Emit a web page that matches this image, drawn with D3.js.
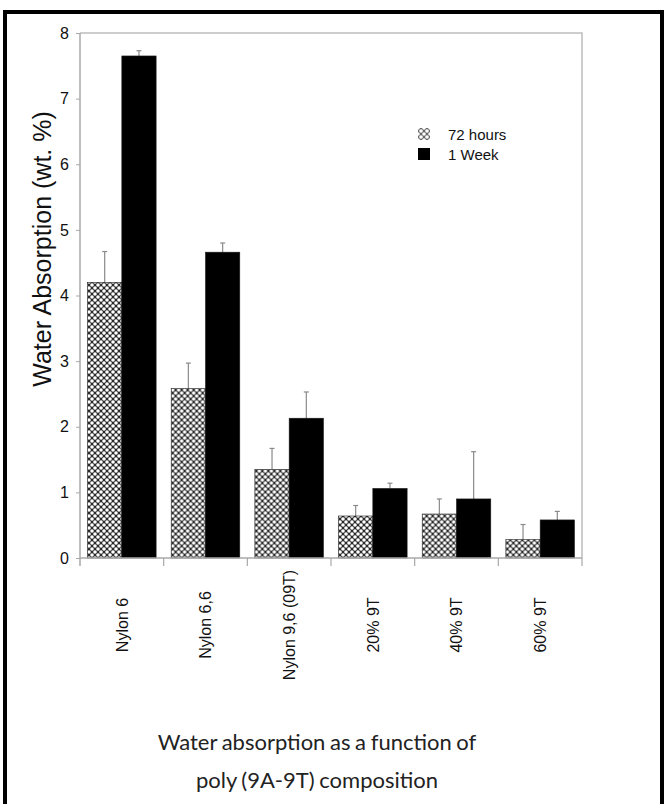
<!DOCTYPE html>
<html>
<head>
<meta charset="utf-8">
<script src="https://cdn.jsdelivr.net/npm/d3@7"></script>
<style>
  body { margin: 0; background: #fff; }
  svg { display: block; }
</style>
</head>
<body>
<div class="canvas"></div>
<script>
// data
const categories = ['Nylon 6', 'Nylon 6,6', 'Nylon 9,6 (09T)', '20% 9T', '40% 9T', '60% 9T']
const seriesNames = ['72 hours', '1 Week']
const hours72 = [4.2, 2.58, 1.35, 0.64, 0.67, 0.28]
const hours72Err = [0.47, 0.39, 0.32, 0.16, 0.23, 0.23]
const week1 = [7.65, 4.66, 2.13, 1.06, 0.9, 0.58]
const week1Err = [0.08, 0.14, 0.4, 0.08, 0.72, 0.13]
const yTicks = [0, 1, 2, 3, 4, 5, 6, 7, 8]

const width = 668, height = 804
const margin = {top: 33, left: 80, right: 86, bottom: 246}
const graphWidth = width - margin.left - margin.right
const graphHeight = height - margin.top - margin.bottom

const svg = d3.select('.canvas')
    .append('svg')
    .attr('width', width)
    .attr('height', height)

// hatched fill for the 72 hours bars
const defs = svg.append('defs')
const pat = defs.append('pattern')
    .attr('id', 'hatch')
    .attr('patternUnits', 'userSpaceOnUse')
    .attr('width', 6)
    .attr('height', 6)
pat.append('rect').attr('width', 6).attr('height', 6).attr('fill', '#2a2a2a')
;[[0, 0], [6, 0], [0, 6], [6, 6], [3, 3]].forEach(p => {
    pat.append('circle').attr('cx', p[0]).attr('cy', p[1]).attr('r', 1.8).attr('fill', '#fff')
})

// outer frame, open at the bottom
svg.append('path')
    .attr('d', `M5,${height} L5,12 L662,12 L662,${height}`)
    .attr('fill', 'none')
    .attr('stroke', '#000')
    .attr('stroke-width', 4)

const graph = svg.append('g')
    .attr('transform', `translate(${margin.left}, ${margin.top})`)

const y = d3.scaleLinear()
    .domain([0, 8])
    .range([graphHeight, 0])

const x0 = d3.scaleBand()
    .domain(categories)
    .range([0, graphWidth])

const x1 = d3.scaleBand()
    .domain(seriesNames)
    .range([0, x0.bandwidth()])
    .paddingOuter(0.22)

// plot box (top and right)
graph.append('path')
    .attr('d', `M0,0 L${graphWidth},0 L${graphWidth},${graphHeight}`)
    .attr('fill', 'none')
    .attr('stroke', '#bdbdbd')
    .attr('stroke-width', 1.5)

const rows = categories.map((c, i) => ({
    cat: c,
    vals: [
        {s: seriesNames[0], v: hours72[i], e: hours72Err[i]},
        {s: seriesNames[1], v: week1[i], e: week1Err[i]}
    ]
}))

const groups = graph.selectAll('g.grp')
    .data(rows)
    .enter()
    .append('g')
    .attr('class', 'grp')
    .attr('transform', d => `translate(${x0(d.cat)}, 0)`)

// error bars (upper only)
const errs = groups.selectAll('g.err')
    .data(d => d.vals)
    .enter()
    .append('g')
    .attr('class', 'err')
errs.append('line')
    .attr('x1', d => x1(d.s) + x1.bandwidth() / 2)
    .attr('x2', d => x1(d.s) + x1.bandwidth() / 2)
    .attr('y1', d => y(d.v))
    .attr('y2', d => y(d.v + d.e))
    .attr('stroke', '#8a8a8a')
    .attr('stroke-width', 1.2)
errs.append('line')
    .attr('x1', d => x1(d.s) + x1.bandwidth() / 2 - 2.5)
    .attr('x2', d => x1(d.s) + x1.bandwidth() / 2 + 2.5)
    .attr('y1', d => y(d.v + d.e))
    .attr('y2', d => y(d.v + d.e))
    .attr('stroke', '#8a8a8a')
    .attr('stroke-width', 1.2)

groups.selectAll('rect')
    .data(d => d.vals)
    .enter()
    .append('rect')
    .attr('x', d => x1(d.s))
    .attr('width', x1.bandwidth())
    .attr('y', d => y(d.v))
    .attr('height', d => graphHeight - y(d.v))
    .attr('fill', d => d.s === seriesNames[0] ? 'url(#hatch)' : '#000')
    .attr('stroke', '#1a1a1a')
    .attr('stroke-width', 0.6)

// y axis
const yAxis = d3.axisLeft(y)
    .tickValues(yTicks)
    .tickFormat(d3.format('d'))
    .tickSize(4)
    .tickPadding(7)
const yAxisGroup = graph.append('g').call(yAxis)
yAxisGroup.select('.domain').attr('stroke', '#a8a8a8').attr('stroke-width', 1.5)
    .attr('d', `M0,0 V${graphHeight + 8}`)
yAxisGroup.selectAll('.tick line').attr('stroke', '#a8a8a8')
yAxisGroup.selectAll('text')
    .attr('font-family', 'Liberation Sans, Arial, sans-serif')
    .attr('font-size', 16)
    .attr('fill', '#111')

// x axis: baseline, separator ticks, rotated labels
graph.append('line')
    .attr('x1', 0).attr('x2', graphWidth)
    .attr('y1', graphHeight).attr('y2', graphHeight)
    .attr('stroke', '#a8a8a8').attr('stroke-width', 1.5)
graph.selectAll('line.sep')
    .data(categories)
    .enter()
    .append('line')
    .attr('class', 'sep')
    .attr('x1', d => x0(d) + x0.bandwidth())
    .attr('x2', d => x0(d) + x0.bandwidth())
    .attr('y1', graphHeight)
    .attr('y2', graphHeight + 8)
    .attr('stroke', '#a8a8a8')
    .attr('stroke-width', 1.2)

graph.selectAll('text.xlab')
    .data(categories)
    .enter()
    .append('text')
    .attr('class', 'xlab')
    .attr('transform', d => `translate(${x0(d) + x0.bandwidth() / 2}, ${graphHeight + 67}) rotate(-90)`)
    .attr('dy', '0.36em')
    .attr('text-anchor', 'middle')
    .attr('font-family', 'Liberation Sans, Arial, sans-serif')
    .attr('font-size', 16)
    .attr('fill', '#111')
    .text(d => d)

// y title
svg.append('text')
    .attr('transform', 'translate(42, 249) rotate(-90)')
    .attr('dy', '0.36em')
    .attr('text-anchor', 'middle')
    .attr('font-family', 'Liberation Sans, Arial, sans-serif')
    .attr('font-size', 25)
    .attr('fill', '#111')
    .text('Water Absorption (wt. %)')

// legend
const legend = svg.append('g').attr('transform', 'translate(418, 128)')
seriesNames.forEach((s, i) => {
    legend.append('rect')
        .attr('x', 0).attr('y', i * 20)
        .attr('width', 12).attr('height', 12)
        .attr('fill', i === 0 ? 'url(#hatch)' : '#000')
        .attr('opacity', i === 0 ? 0.7 : 1)
    legend.append('text')
        .attr('x', 30).attr('y', i * 20 + 12)
        .attr('font-family', 'Liberation Sans, Arial, sans-serif')
        .attr('font-size', 15)
        .attr('fill', '#111')
        .text(s)
})

// caption under the chart
const caption = svg.append('text')
    .attr('text-anchor', 'middle')
    .attr('font-family', 'Lato, sans-serif')
    .attr('font-size', 22)
    .attr('fill', '#222')
    .attr('word-spacing', -1)
caption.append('tspan').attr('x', 317).attr('y', 750).text('Water absorption as a function of')
caption.append('tspan').attr('x', 317).attr('y', 788).text('poly (9A-9T) composition')
</script>
</body>
</html>
